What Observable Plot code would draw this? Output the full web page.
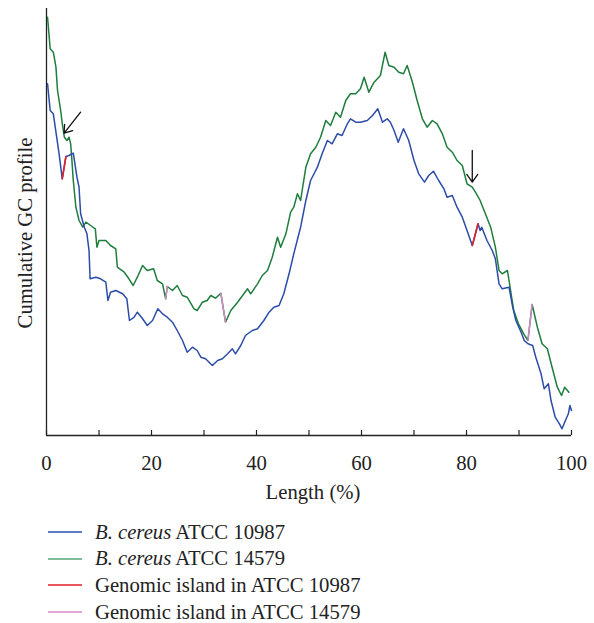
<!DOCTYPE html>
<html>
<head>
<meta charset="utf-8">
<script src="https://cdn.jsdelivr.net/npm/d3@7"></script>
<script src="https://cdn.jsdelivr.net/npm/@observablehq/plot@0.6"></script>
<style>
  html, body { margin: 0; padding: 0; background: #fff; }
  #legend { margin-top: 3.6px; margin-left: 48px; font-family: "Liberation Serif", "DejaVu Serif", serif; font-size: 20.7px; color: #222; }
  .row { display: flex; align-items: center; height: 26.7px; line-height: 26.7px; }
  .row svg { margin-right: 13px; }
</style>
</head>
<body>
<div id="chart"></div>
<div id="legend"></div>
<script>
// Cumulative GC profile (arbitrary units) vs. genome length (%)
const seriesNames = ["B. cereus ATCC 10987", "B. cereus ATCC 14579", "Genomic island in ATCC 10987", "Genomic island in ATCC 14579"];
const seriesColors = ["#2c4ca8", "#1e7d3c", "#e3202a", "#d58ac6"];
const legendColors = ["#2c4ca8", "#55a674", "#e3202a", "#d58ac6"];

const blue10987 = [
  [0.2,351.7],[0.7,325],[1.3,321.7],[1.8,303.3],[2.4,281.7],[3.0,256.7],[3.7,279],[4.3,280],[4.6,281],[5.1,282.3],
  [5.8,258.3],[6.2,248.3],[6.5,221.7],[7.2,208.3],[7.7,201.7],[8.1,185],[8.3,156.7],[9.4,158.3],[10.3,156.7],[11.3,153.3],
  [11.7,135],[12.2,143.3],[13.2,145],[14.5,141.7],[15.3,136.7],[15.8,115],[16.7,118.3],[17.3,123.3],[18.3,116.7],[19.2,110],
  [20.2,115],[21.2,126.7],[22.1,121.7],[23.0,118.3],[24.0,113.3],[24.9,105],[25.9,95],[26.8,83.3],[27.8,88.3],[28.7,85],
  [29.4,78.3],[30.3,76.7],[31.6,70],[32.6,75],[33.5,76.7],[34.5,81.7],[35.4,86.7],[36.0,81.7],[37.0,90],[37.9,100],
  [39.2,105],[40.2,106.7],[41.4,115],[42.4,123.3],[43.3,128.3],[44.3,130],[45.2,141.7],[46.2,161.7],[47.1,181.7],[48.4,208.3],
  [49.4,235],[50.3,255],[51.6,268.3],[52.5,281.7],[53.5,295],[54.4,291.7],[55.4,301.7],[56.3,300],[57.3,311.7],[57.9,316.7],
  [58.9,313.3],[59.8,313.3],[61.1,315],[62.1,320],[63.1,326.7],[64.0,313.3],[64.9,316.7],[65.5,313.3],[66.2,305],[67.0,293.3],
  [68.0,306.7],[69.0,295],[70.0,275],[70.9,261.7],[72.0,253.3],[72.8,260],[73.7,264.3],[74.7,255],[75.7,246.7],[76.3,238.3],
  [77.3,240],[78.2,228.3],[79.2,218.3],[80.1,205],[81.1,190],[81.4,195.7],[82.2,211.7],[82.6,205],[82.9,208.3],[83.9,195],
  [84.9,185],[85.5,176.7],[86.2,151.7],[86.8,146.7],[88.1,148.3],[88.8,128.3],[89.4,115],[90.4,103.3],[91.0,95],[91.7,91.7],
  [92.6,90],[93.2,78.3],[94.2,61.7],[94.8,46.7],[95.6,51.7],[96.1,35],[96.9,18.3],[97.7,11.7],[98.2,6.7],[98.7,13.3],
  [99.4,21.7],[99.7,30],[100,25]
];

const green14579 = [
  [0.2,418.3],[0.7,386.7],[1.3,383.3],[1.8,368.3],[2.1,345],[2.7,325],[3.0,312],[3.4,298.3],[3.9,295],[4.3,298.3],
  [4.6,291.7],[4.8,278.3],[5.1,255],[5.6,228.3],[6.2,215],[6.9,208.3],[7.5,213.3],[8.4,210],[9.3,206.7],[9.6,188.3],
  [10.0,195],[11.3,195],[12.2,190],[13.2,186.7],[13.5,168.3],[14.8,163.3],[15.7,156.7],[16.5,150],[17.3,158.3],[18.3,170],
  [19.2,165],[20.4,166.7],[21.1,155],[22.1,151.7],[22.7,136.7],[23.0,149],[24.0,145],[24.9,150],[25.9,140],[26.8,138.3],
  [28.1,126.7],[28.7,125],[29.7,133.3],[30.6,135],[31.3,140],[32.2,137.3],[33.2,142.3],[34.1,113.3],[35.1,125],[36.4,133.3],
  [37.6,141.7],[38.3,146.7],[38.9,141.7],[40.2,151.7],[41.1,160],[42.1,165],[43.0,178.3],[44.0,198.3],[44.6,188.3],[45.6,201.7],
  [46.5,223.3],[47.1,228.3],[47.8,241.7],[48.4,235],[49.4,268.3],[50.3,281.7],[51.3,288.3],[52.2,298.3],[53.2,315],[54.1,310],
  [55.1,323.3],[56.0,318.3],[57.0,335],[57.9,341.7],[58.9,341.7],[59.8,346.7],[60.5,358.3],[61.4,343.3],[62.4,353.3],[63.6,360],
  [64.5,383.3],[65.2,370],[66.2,368.3],[67.1,363.3],[68.0,361.7],[68.7,370],[69.7,353.3],[70.6,335],[71.6,316.7],[72.5,308.3],
  [73.5,315],[74.4,311.7],[75.4,301.7],[76.3,288.3],[77.3,283.3],[78.2,275],[79.2,270],[80.1,251.7],[81.1,248.3],[81.7,243.3],
  [82.6,235],[83.6,221.7],[84.6,208.3],[85.5,188.3],[86.2,165],[86.8,161.7],[87.8,165],[88.4,145],[89.0,125],[89.9,111.7],
  [90.9,101.7],[91.7,95],[92.5,131],[93.5,108.3],[94.4,91.7],[95.4,86.7],[96.3,68.3],[97.3,48.3],[98.1,40],[98.7,48.3],
  [99.5,43.3]
];

// genomic island segments (start/end in % length)
const islands10987 = [[3.0, 3.7], [81.1, 82.2]];
const islands14579 = [[22.7, 23.0], [33.2, 34.1], [91.7, 92.5]];

// arrows marking islands: [x1, y1, x2, y2]
const arrows = [[6.5, 323.3, 3.35, 302.3], [81.1, 285, 81.1, 253.3]];

const xMajorTicks = [0, 20, 40, 60, 80, 100];
const xAllTicks = [0, 10, 20, 30, 40, 50, 60, 70, 80, 90, 100];

const toRows = (arr, series) => arr.map(([x, y]) => ({x, y, series}));
const segment = (arr, [a, b]) => arr.filter(([x]) => x >= a && x <= b).map(([x, y]) => ({x, y}));

const blueRows = toRows(blue10987, seriesNames[0]);
const greenRows = toRows(green14579, seriesNames[1]);
const redSegs = islands10987.map((r, i) => segment(blue10987, r).map(d => ({...d, seg: i})));
const pinkSegs = islands14579.map((r, i) => segment(green14579, r).map(d => ({...d, seg: i})));
const arrowRows = arrows.map(([x1, y1, x2, y2]) => ({x1, y1, x2, y2}));

const FS = 20.7;
const chart = Plot.plot({
  width: 594,
  height: 515,
  marginTop: 8,
  marginRight: 23,
  marginBottom: 80,
  marginLeft: 46,
  x: {domain: [0, 100]},
  y: {domain: [0, 427], axis: null},
  style: {fontFamily: "'Liberation Serif', 'DejaVu Serif', serif", fontSize: FS + "px", color: "#222", background: "#fff"},
  marks: [
    Plot.ruleX(xAllTicks, {x: d => d, insetTop: 422, stroke: "#222", strokeWidth: 1.2}),
    Plot.axisX({ticks: xMajorTicks, tickSize: 0, tickPadding: 20, label: null, fontSize: FS, tickFormat: d => String(d)}),
    Plot.ruleY([0], {stroke: "#222", strokeWidth: 1.3}),
    Plot.ruleX([0], {stroke: "#222", strokeWidth: 1.3}),
    Plot.line(greenRows, {x: "x", y: "y", stroke: seriesColors[1], strokeWidth: 1.5}),
    Plot.line(blueRows, {x: "x", y: "y", stroke: seriesColors[0], strokeWidth: 1.5}),
    Plot.line(redSegs.flat(), {x: "x", y: "y", z: "seg", stroke: seriesColors[2], strokeWidth: 1.6}),
    Plot.line(pinkSegs.flat(), {x: "x", y: "y", z: "seg", stroke: seriesColors[3], strokeWidth: 1.5}),
    Plot.arrow(arrowRows, {x1: "x1", y1: "y1", x2: "x2", y2: "y2", stroke: "#111", strokeWidth: 1.3, headLength: 11, headAngle: 70}),
    Plot.text(["Cumulative GC profile"], {frameAnchor: "left", textAnchor: "middle", rotate: -90, dx: -21, dy: 11, fontSize: FS, fill: "#222"}),
    Plot.text(["Length (%)"], {frameAnchor: "bottom", textAnchor: "middle", dy: 63.5, dx: 4, fontSize: FS, fill: "#222"})
  ]
});
document.getElementById("chart").appendChild(chart);

// legend
const legend = d3.select("#legend");
seriesNames.forEach((name, i) => {
  const row = legend.append("div").attr("class", "row");
  const s = row.append("svg").attr("width", 34).attr("height", 10);
  s.append("line").attr("x1", 0).attr("x2", 34).attr("y1", 5).attr("y2", 5)
    .attr("stroke", legendColors[i]).attr("stroke-width", 1.6);
  const t = row.append("span");
  if (name.startsWith("B. cereus")) {
    t.append("i").text("B. cereus");
    t.append("span").text(name.slice("B. cereus".length));
  } else {
    t.text(name);
  }
});
</script>
</body>
</html>
